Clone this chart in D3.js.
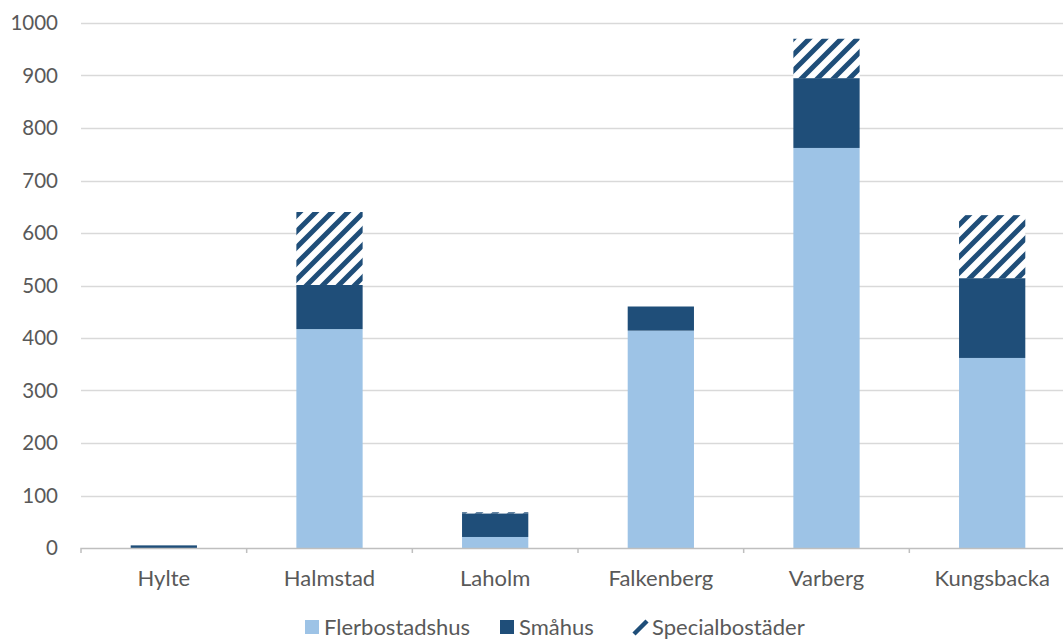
<!DOCTYPE html>
<html>
<head>
<meta charset="utf-8">
<script src="https://cdn.jsdelivr.net/npm/d3@7"></script>
<style>
  html, body { margin: 0; padding: 0; background: #fff; }
  svg { display: block; }
  text { font-family: Lato, "Open Sans", sans-serif; fill: #595959; }
</style>
</head>
<body>
<svg id="chart" width="1063" height="641"></svg>
<script>
// Municipalities along the x axis
const categories = ["Hylte", "Halmstad", "Laholm", "Falkenberg", "Varberg", "Kungsbacka"];

// Stacked series (number of dwellings)
const flerbostadshus = [0, 417, 21, 414, 762, 362];
const smahus = [5, 84, 45, 46, 133, 152];
const specialbostader = [0, 139, 2, 0, 75, 120];

const seriesNames = ["Flerbostadshus", "Småhus", "Specialbostäder"];
const yTicks = [0, 100, 200, 300, 400, 500, 600, 700, 800, 900, 1000];

const colors = { light: "#9DC3E6", dark: "#1F4E79", grid: "#D9D9D9", axis: "#BFBFBF" };

const svg = d3.select("#chart");
const W = 1063, H = 641;
const plotLeft = 81, plotRight = 1075, plotTop = 23, plotBottom = 548;

const x = d3.scaleBand().domain(categories).range([plotLeft, plotRight]).paddingInner(0.6).paddingOuter(0.3);
const y = d3.scaleLinear().domain([0, 1000]).range([plotBottom, plotTop]);

// Diagonal hatch for special housing
const defs = svg.append("defs");
const pat = defs.append("pattern")
  .attr("id", "hatch")
  .attr("patternUnits", "userSpaceOnUse")
  .attr("width", 16).attr("height", 16);
pat.append("rect").attr("width", 16).attr("height", 16).attr("fill", "#fff");
pat.append("path")
  .attr("d", "M-4,4 L4,-4 M0,16 L16,0 M12,20 L20,12")
  .attr("stroke", colors.dark).attr("stroke-width", 5);

// Horizontal gridlines
svg.append("g")
  .selectAll("line")
  .data(yTicks.filter(d => d > 0))
  .join("line")
  .attr("x1", plotLeft).attr("x2", W)
  .attr("y1", d => Math.round(y(d)) + 0.5).attr("y2", d => Math.round(y(d)) + 0.5)
  .attr("stroke", colors.grid).attr("stroke-width", 1.5);

// Y axis labels
const yAxis = d3.axisLeft(y).tickValues(yTicks).tickSize(0).tickPadding(0).tickFormat(d3.format("d"));
const gy = svg.append("g").attr("transform", `translate(58,0)`).call(yAxis);
gy.select(".domain").remove();
gy.selectAll("text").attr("font-size", 20.5).attr("fill", "#595959").attr("font-family", "Lato, sans-serif");

// Stack the three series
const rows = categories.map((c, i) => ({
  cat: c,
  Flerbostadshus: flerbostadshus[i],
  "Småhus": smahus[i],
  "Specialbostäder": specialbostader[i]
}));
const stacked = d3.stack().keys(seriesNames)(rows);
const fills = [colors.light, colors.dark, "url(#hatch)"];

svg.append("g")
  .selectAll("g")
  .data(stacked)
  .join("g")
  .attr("fill", (d, i) => fills[i])
  .selectAll("rect")
  .data(d => d)
  .join("rect")
  .attr("x", d => x(d.data.cat))
  .attr("width", x.bandwidth())
  .attr("y", d => y(d[1]))
  .attr("height", d => y(d[0]) - y(d[1]));

// Category axis along zero
const xAxis = d3.axisBottom(x).tickSize(0).tickPadding(22);
const gx = svg.append("g").attr("transform", `translate(0,${plotBottom})`).call(xAxis);
gx.select(".domain").attr("d", `M${plotLeft},5V0.5H${plotRight}`).attr("stroke", colors.axis).attr("stroke-width", 1.5).attr("fill", "none");
gx.selectAll("text").attr("font-size", 22).attr("fill", "#595959").attr("font-family", "Lato, sans-serif");
// Small divider ticks between categories
gx.append("g").selectAll("line")
  .data(categories.slice(1))
  .join("line")
  .attr("x1", d => x(d) - x.step() * x.paddingInner() / 2)
  .attr("x2", d => x(d) - x.step() * x.paddingInner() / 2)
  .attr("y1", 0).attr("y2", 5)
  .attr("stroke", colors.axis).attr("stroke-width", 1.5);

// Legend
const legendItems = [
  { name: seriesNames[0], x: 305 },
  { name: seriesNames[1], x: 500 },
  { name: seriesNames[2], x: 633 }
];
const lg = svg.append("g");
const items = lg.selectAll("g").data(legendItems).join("g")
  .attr("transform", d => `translate(${d.x},620)`);
items.each(function(d, i) {
  const g = d3.select(this);
  if (i < 2) {
    g.append("rect").attr("width", 14).attr("height", 14).attr("fill", i === 0 ? colors.light : colors.dark);
  } else {
    g.append("path").attr("d", "M1,14 L14,1").attr("stroke", colors.dark).attr("stroke-width", 4.5).attr("stroke-linecap", "butt");
  }
  g.append("text").attr("x", 19).attr("y", 15).attr("font-size", 22).text(d.name);
});
</script>
</body>
</html>
